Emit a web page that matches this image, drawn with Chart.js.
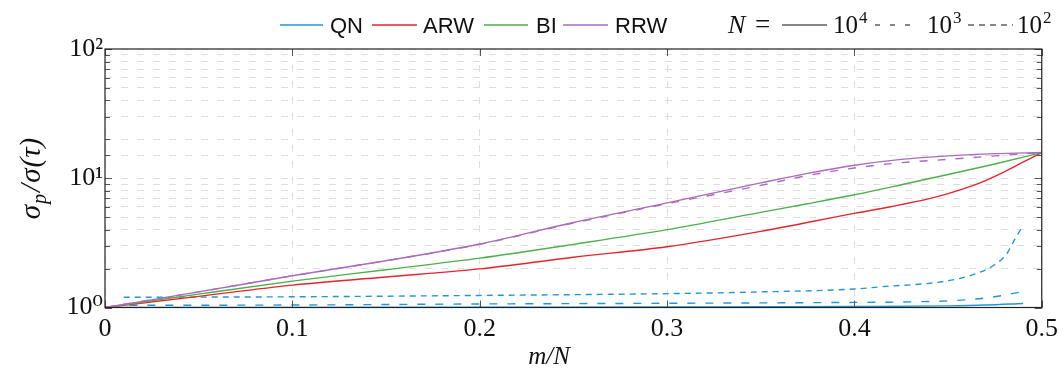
<!DOCTYPE html>
<html><head><meta charset="utf-8">
<script src="https://cdn.jsdelivr.net/npm/chart.js@4/dist/chart.umd.min.js"></script>
<style>html,body{margin:0;padding:0;background:#fff}#wrap{width:1064px;height:374px}</style>
</head><body><div id="wrap"><canvas id="c" width="1064" height="374"></canvas></div>
<script>
// ---- data ----
const xTickLabels = ['0','0.1','0.2','0.3','0.4','0.5'];
const yTickLabels = {0:'10⁰',1:'10¹',2:'10²'};
const methodNames = ['QN','ARW','BI','RRW'];
const sizeLabels = ['4','3','2']; // exponents of N = 10^k

const rrwX4 = [0,0.05,0.1,0.15,0.2,0.25,0.3,0.35,0.375,0.4,0.425,0.45,0.475,0.5];
const rrwY4 = [1.00,1.32,1.76,2.30,3.10,4.55,6.45,9.2,10.9,12.6,14.0,14.9,15.5,15.8];
const rrwX3 = [0,0.05,0.1,0.15,0.2,0.25,0.3,0.35,0.375,0.4,0.425,0.45,0.475,0.5];
const rrwY3 = [1.00,1.32,1.76,2.30,3.08,4.50,6.35,8.8,10.5,12.0,13.2,14.0,14.9,15.8];
const biX4  = [0,0.05,0.1,0.15,0.2,0.25,0.3,0.35,0.375,0.4,0.425,0.45,0.475,0.5];
const biY4  = [1.00,1.27,1.60,1.96,2.41,3.08,4.00,5.45,6.35,7.45,8.9,10.7,12.9,15.8];
const arwX4 = [0,0.05,0.1,0.15,0.2,0.25,0.3,0.35,0.4,0.42,0.44,0.45,0.46,0.47,0.48,0.49,0.5];
const arwY4 = [1.00,1.22,1.49,1.72,1.99,2.45,2.95,3.88,5.35,6.05,6.95,7.6,8.45,9.6,11.2,13.3,15.8];
const qnX4  = [0,0.1,0.2,0.3,0.4,0.45,0.47,0.49];
const qnY4  = [1.0,1.003,1.006,1.01,1.018,1.03,1.045,1.075];
const qnX3  = [0.013,0.1,0.2,0.3,0.4,0.43,0.457,0.4748,0.49];
const qnY3  = [1.04,1.045,1.065,1.078,1.095,1.105,1.14,1.21,1.33];
const qnX2  = [0.01,0.1,0.2,0.3,0.35,0.4,0.4127,0.45,0.466,0.4748,0.481,0.4855,0.49];
const qnY2  = [1.2,1.21,1.24,1.28,1.32,1.39,1.44,1.61,1.85,2.14,2.56,3.35,4.30];

const COLORS = {QN:'#1f96d6', ARW:'#e3262d', BI:'#4daf4a', RRW:'#a96bbd'};
const DASH = {'4':[], '3':[8,10], '2':[6,5]};

function pts(xs, ys){ return xs.map((x,i)=>({x:x, y:ys[i]})); }
function ds(name, exp, xs, ys){
  return {label:name+' 10^'+exp, data:pts(xs,ys), borderColor:COLORS[name], borderWidth:1.4,
    borderDash:DASH[exp], pointRadius:0, fill:false, cubicInterpolationMode:'monotone'};
}

const datasets = [
  ds('RRW','4',rrwX4,rrwY4),
  ds('RRW','3',rrwX3,rrwY3),
  ds('BI','4',biX4,biY4),
  ds('ARW','4',arwX4,arwY4),
  ds('QN','4',qnX4,qnY4),
  ds('QN','3',qnX3,qnY3),
  ds('QN','2',qnX2,qnY2)
];

const SERIF = '"Liberation Serif", "DejaVu Serif", serif';
const SANS = '"Liberation Sans", Arial, sans-serif';

const deco = {
  id:'deco',
  afterDatasetsDraw(chart){
    const ctx = chart.ctx, a = chart.chartArea, xs = chart.scales.x, ys = chart.scales.y;
    ctx.save();
    ctx.strokeStyle = '#555'; ctx.lineWidth = 1; ctx.setLineDash([]);
    ys.ticks.forEach(t=>{
      const lg = Math.log10(t.value);
      const major = Math.abs(lg-Math.round(lg))<1e-6;
      const L = major?7:5;
      const y = Math.round(ys.getPixelForValue(t.value))+0.5;
      ctx.beginPath(); ctx.moveTo(a.left,y); ctx.lineTo(a.left+L,y);
      ctx.moveTo(a.right,y); ctx.lineTo(a.right-L,y); ctx.stroke();
    });
    xs.ticks.forEach(t=>{
      const x = Math.round(xs.getPixelForValue(t.value))+0.5;
      ctx.beginPath(); ctx.moveTo(x,a.bottom); ctx.lineTo(x,a.bottom-7);
      ctx.moveTo(x,a.top); ctx.lineTo(x,a.top+7); ctx.stroke();
    });
    ctx.strokeStyle = '#222'; ctx.lineWidth = 1.2;
    ctx.strokeRect(a.left, a.top, a.right-a.left, a.bottom-a.top);
    ctx.restore();
  },
  afterDraw(chart){
    const ctx = chart.ctx;
    ctx.save();
    ctx.textBaseline = 'alphabetic';
    const ly = 25, base = 33;
    const items = [[280,323,330],[372,417,423],[484,528,536],[563,608,615]];
    methodNames.forEach((n,i)=>{
      const it = items[i];
      ctx.strokeStyle = COLORS[n]; ctx.lineWidth = 1.5; ctx.setLineDash([]);
      ctx.beginPath(); ctx.moveTo(it[0],ly); ctx.lineTo(it[1],ly); ctx.stroke();
      ctx.fillStyle = '#111'; ctx.font = '22px '+SANS; ctx.textAlign='left';
      ctx.fillText(n, it[2], base);
    });
    ctx.fillStyle = '#111';
    ctx.font = 'italic 26px '+SERIF; ctx.fillText('N', 728, base);
    ctx.font = '27px '+SERIF; ctx.fillText('=', 755, base);
    const segs = [[782,827,833,[]],[875,911,927,[5,10]],[968,1013,1017,[6,5]]];
    sizeLabels.forEach((e,i)=>{
      const s = segs[i];
      ctx.strokeStyle = '#111'; ctx.lineWidth = 1.2; ctx.setLineDash(s[3]);
      ctx.beginPath(); ctx.moveTo(s[0],ly); ctx.lineTo(s[1],ly); ctx.stroke();
      ctx.setLineDash([]);
      ctx.font = '25px '+SERIF; ctx.fillText('10', s[2], base);
      const w = ctx.measureText('10').width;
      ctx.font = '17px '+SERIF; ctx.fillText(e, s[2]+w+1, base-10);
    });
    ctx.font = 'italic 25px '+SERIF; ctx.textAlign='center';
    ctx.fillText('m/N', 549, 364);
    ctx.translate(40, 178); ctx.rotate(-Math.PI/2);
    const parts = [['σ','italic 29px',0,1],['p','italic 20px',6,2],['/','italic 29px',0,1],['σ','italic 29px',0,1],['(τ)','italic 29px',0,1]];
    let tw = 0; parts.forEach(p=>{ctx.font=p[1]+' '+SERIF; tw+=ctx.measureText(p[0]).width+p[3];});
    let x0 = -tw/2; ctx.textAlign='left';
    parts.forEach(p=>{ctx.font=p[1]+' '+SERIF; ctx.fillText(p[0], x0, p[2]); x0+=ctx.measureText(p[0]).width+p[3];});
    ctx.restore();
  }
};

new Chart(document.getElementById('c'), {
  type:'line',
  data:{datasets:datasets},
  options:{
    responsive:false, animation:false, devicePixelRatio:1,
    layout:{padding:{top:49,right:20,left:0,bottom:0}},
    plugins:{legend:{display:false}, tooltip:{enabled:false}},
    scales:{
      x:{type:'linear', min:0, max:0.5,
        ticks:{stepSize:0.1, autoSkip:false, maxRotation:0, color:'#111', padding:6,
          font:{family:SERIF, size:26}, callback:(v,i)=>xTickLabels[i]},
        grid:{drawTicks:false, color:'#dedede', lineWidth:1},
        border:{display:false, dash:[7,9]},
        afterFit:(s)=>{s.height=66.5;}},
      y:{type:'logarithmic', min:1, max:100,
        ticks:{autoSkip:false, color:'#111', padding:2, font:{family:SERIF, size:26},
          callback:(v)=>{const l=Math.log10(v); const r=Math.round(l); return Math.abs(l-r)<1e-6 ? yTickLabels[r] : '';}},
        grid:{drawTicks:false, color:'#dedede', lineWidth:1},
        border:{display:false, dash:[7,9]},
        afterFit:(s)=>{s.width=105;}}
    }
  },
  plugins:[deco]
});
</script></body></html>
